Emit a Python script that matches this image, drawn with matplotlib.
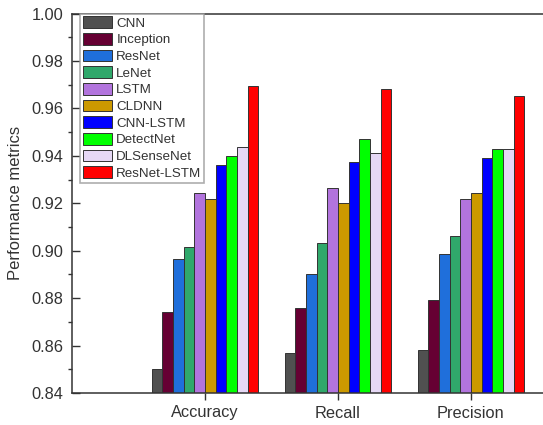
import matplotlib
matplotlib.use("Agg")
import matplotlib.pyplot as plt
import numpy as np
from matplotlib.ticker import MultipleLocator

plt.rcParams['font.family'] = ['Liberation Sans', 'DejaVu Sans']

metrics = ["Accuracy", "Recall", "Precision"]
models = ["CNN", "Inception", "ResNet", "LeNet", "LSTM", "CLDNN",
          "CNN-LSTM", "DetectNet", "DLSenseNet", "ResNet-LSTM"]
colors = ["#505050", "#660033", "#1F6FDB", "#30A86B", "#B274DD", "#CC9900",
          "#0000FF", "#00FF00", "#E6D8F5", "#FF0000"]

cnn = [0.850, 0.857, 0.858]
inception = [0.874, 0.876, 0.879]
resnet = [0.8966, 0.890, 0.8987]
lenet = [0.9015, 0.9033, 0.9063]
lstm = [0.9245, 0.9265, 0.922]
cldnn = [0.9218, 0.9202, 0.9244]
cnn_lstm = [0.9362, 0.9375, 0.9392]
detectnet = [0.940, 0.9472, 0.943]
dlsensenet = [0.9438, 0.9413, 0.943]
resnet_lstm = [0.9696, 0.9683, 0.9654]

series = [cnn, inception, resnet, lenet, lstm, cldnn,
          cnn_lstm, detectnet, dlsensenet, resnet_lstm]

W, H = 543, 425
fig = plt.figure(figsize=(W / 100, H / 100), dpi=100)
left, bottom, top = 72, 393, 13.5
unit = 133.0
xmin, xmax = -1.0, 3.0
ax = fig.add_axes([left / W, (H - bottom) / H, (xmax - xmin) * unit / W, (bottom - top) / H])

x = np.arange(len(metrics))
bw = 0.08
n = len(series)
for i, (vals, name, c) in enumerate(zip(series, models, colors)):
    off = (i - (n - 1) / 2) * bw
    ax.bar(x + off, vals, width=bw, color=c, edgecolor="#333333",
           linewidth=0.7, label=name, zorder=2)

ax.set_xlim(xmin, xmax)
ax.set_ylim(0.84, 1.00)
ax.set_xticks(x)
ax.set_xticklabels(metrics, fontsize=11.8, color="#333333")
ax.yaxis.set_major_locator(MultipleLocator(0.02))
ax.yaxis.set_minor_locator(MultipleLocator(0.01))
ax.set_yticklabels([f"{v:.2f}" for v in ax.get_yticks()])
ax.tick_params(axis="y", which="major", direction="in", length=6, width=1,
               labelsize=11.8, labelcolor="#333333", color="#333333", pad=6)
ax.tick_params(axis="y", which="minor", direction="out", length=3, width=1,
               color="#333333")
ax.tick_params(axis="x", which="major", direction="out", length=5, width=1,
               labelsize=11.8, labelcolor="#333333", color="#333333", pad=4)
for s in ax.spines.values():
    s.set_color("#333333")
    s.set_linewidth(1.1)
ax.set_ylabel("Performance metrics", fontsize=12, color="#333333", labelpad=6)

leg = ax.legend(loc="upper left", fontsize=9.6, frameon=True, fancybox=False,
                handlelength=2.2, handleheight=0.95, labelspacing=0.25,
                handletextpad=0.3, borderpad=0.22, borderaxespad=0.0,
                bbox_to_anchor=(8 / ((xmax - xmin) * unit), 1.0))
leg.get_frame().set_edgecolor("#999999")
leg.get_frame().set_linewidth(1.2)
for t in leg.get_texts():
    t.set_color("#333333")

fig.savefig("out.png", dpi=100)
